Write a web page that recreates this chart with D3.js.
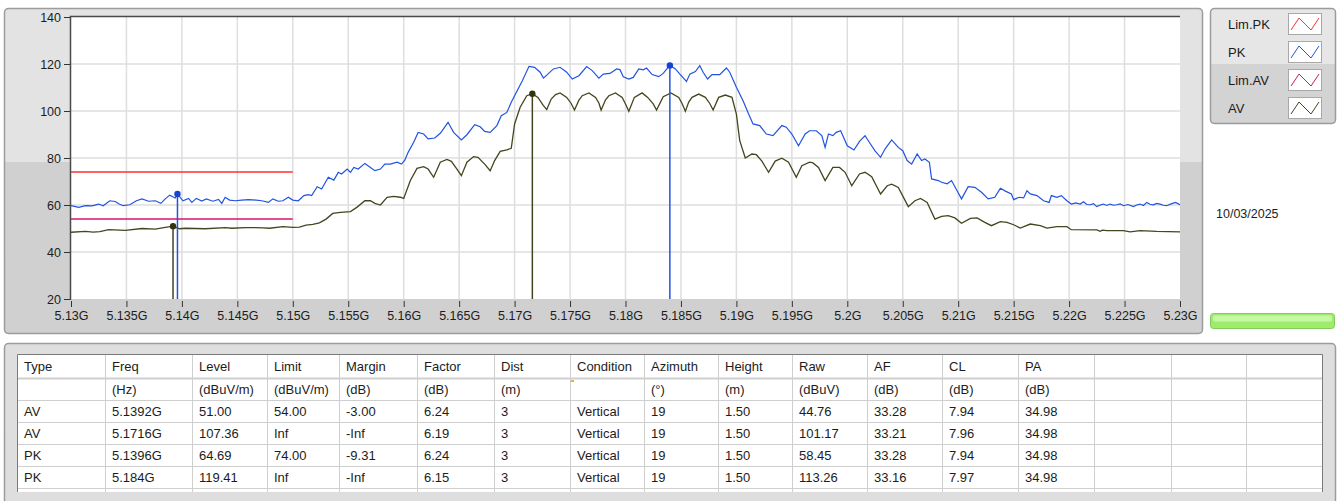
<!DOCTYPE html>
<html>
<head>
<meta charset="utf-8">
<script src="https://cdn.jsdelivr.net/npm/d3@7"></script>
<style>
  body { margin: 0; background: #fff; }
  svg text { font-family: "Liberation Sans", Arial, sans-serif; fill: #1c1c1c; }
</style>
</head>
<body>
<div id="chart"></div>
<script>
// ---- data ----
const xTicks = [5.13, 5.135, 5.14, 5.145, 5.15, 5.155, 5.16, 5.165, 5.17, 5.175, 5.18,
                5.185, 5.19, 5.195, 5.2, 5.205, 5.21, 5.215, 5.22, 5.225, 5.23];
const yTicks = [20, 40, 60, 80, 100, 120, 140];

// limit lines [freq GHz, dBuV/m]
const limitPK = [[5.13, 74], [5.15, 74]];
const limitAV = [[5.13, 54], [5.15, 54]];

// peak trace [freq GHz, dBuV/m]
const pkTrace = [
  [5.1300,59.7],[5.1307,59.0],[5.1313,59.7],[5.1319,59.6],[5.1325,60.4],[5.1329,59.7],[5.1335,61.8],[5.1340,61.5],
  [5.1343,60.5],[5.1347,59.7],[5.1353,60.1],[5.1359,61.8],[5.1364,62.6],[5.1370,61.6],[5.1376,61.8],[5.1381,60.7],
  [5.1385,62.6],[5.1389,64.2],[5.1394,63.0],[5.1396,64.7],[5.1401,61.8],[5.1406,62.8],[5.1409,61.1],[5.1413,62.8],
  [5.1418,61.7],[5.1422,62.6],[5.1428,61.6],[5.1433,62.4],[5.1436,60.7],[5.1439,63.3],[5.1443,62.1],[5.1448,61.8],
  [5.1454,62.1],[5.1460,62.3],[5.1467,62.1],[5.1472,61.8],[5.1478,61.1],[5.1482,62.6],[5.1487,61.6],[5.1491,61.8],
  [5.1496,63.3],[5.1500,62.1],[5.1505,61.8],[5.1510,64.0],[5.1514,64.4],[5.1517,64.0],[5.1522,67.8],[5.1526,66.8],
  [5.1532,71.8],[5.1537,70.6],[5.1541,73.9],[5.1544,73.2],[5.1549,75.3],[5.1552,73.9],[5.1555,76.0],[5.1559,75.3],
  [5.1565,77.7],[5.1570,76.0],[5.1574,74.6],[5.1579,75.3],[5.1583,77.4],[5.1588,77.4],[5.1594,78.2],[5.1598,77.4],
  [5.1601,79.1],[5.1604,82.4],[5.1609,86.7],[5.1613,90.9],[5.1618,90.2],[5.1622,88.1],[5.1628,88.5],[5.1633,90.5],
  [5.1640,95.2],[5.1645,90.9],[5.1652,87.7],[5.1657,89.9],[5.1664,94.2],[5.1669,93.3],[5.1673,91.3],[5.1678,90.9],
  [5.1684,93.8],[5.1688,98.0],[5.1693,99.4],[5.1697,103.7],[5.1700,106.5],[5.1707,112.9],[5.1713,119.0],[5.1718,118.6],
  [5.1723,116.5],[5.1726,114.0],[5.1730,115.7],[5.1735,117.9],[5.1741,118.6],[5.1747,116.5],[5.1752,113.6],[5.1758,115.0],
  [5.1765,118.9],[5.1770,117.2],[5.1776,114.0],[5.1780,115.7],[5.1786,116.0],[5.1792,117.9],[5.1795,117.6],[5.1798,114.6],
  [5.1803,113.6],[5.1807,114.3],[5.1812,117.9],[5.1816,117.5],[5.1819,118.3],[5.1824,115.5],[5.1830,114.6],[5.1834,116.0],
  [5.1840,119.4],[5.1845,117.9],[5.1849,115.7],[5.1855,112.6],[5.1858,115.7],[5.1863,116.8],[5.1867,119.3],[5.1870,116.5],
  [5.1874,113.6],[5.1878,115.5],[5.1885,115.5],[5.1891,118.3],[5.1894,116.5],[5.1900,110.1],[5.1906,104.4],[5.1911,98.7],
  [5.1915,94.5],[5.1921,93.8],[5.1927,90.2],[5.1933,89.5],[5.1941,93.8],[5.1945,93.1],[5.1950,90.2],[5.1956,85.2],
  [5.1962,90.2],[5.1966,91.6],[5.1972,91.6],[5.1977,89.5],[5.1980,84.5],[5.1983,90.2],[5.1987,89.5],[5.1990,90.9],
  [5.1994,91.6],[5.2000,85.2],[5.2006,83.4],[5.2011,87.1],[5.2016,89.5],[5.2020,86.6],[5.2025,83.0],[5.2030,80.3],
  [5.2034,83.8],[5.2040,87.7],[5.2046,84.5],[5.2050,83.1],[5.2054,78.9],[5.2058,77.4],[5.2063,81.7],[5.2067,78.9],
  [5.2070,79.6],[5.2074,78.2],[5.2076,71.1],[5.2082,70.4],[5.2085,69.7],[5.2090,69.0],[5.2094,70.4],[5.2099,66.1],
  [5.2103,62.6],[5.2109,67.8],[5.2115,67.5],[5.2121,65.4],[5.2127,62.6],[5.2133,63.3],[5.2138,67.1],[5.2143,65.8],
  [5.2148,64.7],[5.2150,62.3],[5.2155,63.3],[5.2159,63.0],[5.2162,66.1],[5.2165,64.7],[5.2171,64.0],[5.2177,61.8],
  [5.2182,61.1],[5.2184,64.0],[5.2189,63.3],[5.2193,64.0],[5.2198,61.8],[5.2202,60.4],[5.2206,60.9],[5.2210,60.4],
  [5.2213,61.4],[5.2216,60.2],[5.2219,60.1],[5.2222,60.6],[5.2225,59.3],[5.2228,60.0],[5.2231,60.4],[5.2234,59.8],
  [5.2237,60.4],[5.2240,59.9],[5.2243,60.1],[5.2246,60.5],[5.2249,59.7],[5.2253,60.2],[5.2258,59.3],[5.2261,60.0],
  [5.2264,60.4],[5.2267,59.8],[5.2270,61.1],[5.2273,60.3],[5.2276,60.1],[5.2279,60.7],[5.2282,60.4],[5.2285,59.9],
  [5.2288,59.7],[5.2292,60.5],[5.2296,61.1],[5.2300,60.1]
];

// average trace [freq GHz, dBuV/m]
const avTrace = [
  [5.1300,48.4],[5.1313,48.8],[5.1320,48.5],[5.1326,48.7],[5.1334,49.5],[5.1349,49.2],[5.1364,50.0],[5.1376,49.7],
  [5.1385,50.5],[5.1392,51.0],[5.1398,49.9],[5.1403,50.1],[5.1421,49.9],[5.1439,50.4],[5.1445,50.1],[5.1457,50.4],
  [5.1466,50.4],[5.1473,50.3],[5.1479,50.1],[5.1491,50.8],[5.1500,50.5],[5.1506,50.6],[5.1512,51.4],[5.1518,51.8],
  [5.1524,52.4],[5.1530,54.0],[5.1536,56.4],[5.1543,56.9],[5.1552,57.2],[5.1558,59.1],[5.1565,61.8],[5.1570,61.8],
  [5.1574,60.7],[5.1579,60.0],[5.1585,63.3],[5.1591,63.7],[5.1597,63.3],[5.1600,62.8],[5.1606,70.4],[5.1612,75.6],
  [5.1618,76.3],[5.1622,75.3],[5.1627,71.8],[5.1633,78.2],[5.1639,79.4],[5.1643,78.6],[5.1648,75.3],[5.1652,72.5],
  [5.1657,78.2],[5.1663,80.6],[5.1667,80.3],[5.1673,77.4],[5.1678,74.6],[5.1682,78.9],[5.1687,82.8],[5.1693,83.5],
  [5.1697,84.1],[5.1700,94.5],[5.1705,101.6],[5.1711,106.5],[5.1716,107.4],[5.1721,105.8],[5.1726,102.3],[5.1729,100.6],
  [5.1733,105.1],[5.1737,107.0],[5.1741,107.7],[5.1747,105.8],[5.1751,103.2],[5.1754,100.4],[5.1758,104.6],[5.1761,106.5],
  [5.1767,107.7],[5.1773,105.8],[5.1776,103.4],[5.1778,100.4],[5.1782,104.8],[5.1785,106.5],[5.1791,107.7],[5.1797,105.8],
  [5.1800,103.0],[5.1803,99.9],[5.1808,105.8],[5.1815,107.7],[5.1820,105.8],[5.1825,103.0],[5.1828,100.4],[5.1834,106.1],
  [5.1841,107.7],[5.1848,105.8],[5.1851,103.2],[5.1854,99.9],[5.1857,103.8],[5.1860,105.8],[5.1866,107.2],[5.1872,105.8],
  [5.1876,103.2],[5.1879,100.4],[5.1884,105.8],[5.1890,106.8],[5.1896,105.8],[5.1900,98.7],[5.1903,87.4],[5.1908,80.0],
  [5.1914,81.7],[5.1918,81.4],[5.1923,78.7],[5.1929,73.9],[5.1935,78.7],[5.1941,79.9],[5.1947,78.2],[5.1954,71.8],
  [5.1959,76.7],[5.1966,78.2],[5.1969,77.9],[5.1974,76.0],[5.1980,70.4],[5.1987,76.0],[5.1993,76.0],[5.1998,73.9],
  [5.2004,68.2],[5.2011,73.2],[5.2016,73.9],[5.2022,72.0],[5.2030,64.7],[5.2036,68.2],[5.2040,68.9],[5.2046,67.5],
  [5.2055,59.3],[5.2061,61.8],[5.2066,62.8],[5.2072,61.1],[5.2079,54.0],[5.2085,55.2],[5.2091,55.5],[5.2097,54.5],
  [5.2103,52.2],[5.2111,54.3],[5.2117,54.5],[5.2124,52.6],[5.2130,51.2],[5.2138,52.9],[5.2144,52.6],[5.2150,51.6],
  [5.2156,50.2],[5.2165,51.9],[5.2174,51.2],[5.2180,50.2],[5.2189,50.8],[5.2198,50.8],[5.2202,49.5],[5.2225,49.4],
  [5.2228,48.8],[5.2230,49.3],[5.2234,49.1],[5.2249,49.1],[5.2255,48.6],[5.2264,49.1],[5.2279,48.8],[5.2300,48.6]
];

const legendNames = ["Lim.PK", "PK", "Lim.AV", "AV"];
const dateLabel = "10/03/2025";

const tableHeader = ["Type", "Freq", "Level", "Limit", "Margin", "Factor", "Dist", "Condition",
                     "Azimuth", "Height", "Raw", "AF", "CL", "PA"];
const tableUnits = ["", "(Hz)", "(dBuV/m)", "(dBuV/m)", "(dB)", "(dB)", "(m)", "",
                    "(°)", "(m)", "(dBuV)", "(dB)", "(dB)", "(dB)"];
const tableRows = [
  ["AV", "5.1392G", "51.00", "54.00", "-3.00", "6.24", "3", "Vertical", "19", "1.50", "44.76", "33.28", "7.94", "34.98"],
  ["AV", "5.1716G", "107.36", "Inf", "-Inf", "6.19", "3", "Vertical", "19", "1.50", "101.17", "33.21", "7.96", "34.98"],
  ["PK", "5.1396G", "64.69", "74.00", "-9.31", "6.24", "3", "Vertical", "19", "1.50", "58.45", "33.28", "7.94", "34.98"],
  ["PK", "5.184G", "119.41", "Inf", "-Inf", "6.15", "3", "Vertical", "19", "1.50", "113.26", "33.16", "7.97", "34.98"]
];

// ---- layout and styles ----
const width = 1338, height = 501;
const plot = {left: 71, right: 1180, top: 17, bottom: 299};
const colors = {"Lim.PK": "#ff3030", "PK": "#2153e0", "Lim.AV": "#d4146c", "AV": "#45451f"};
const colEdges = [17, 105, 192, 267, 339, 417, 494, 570, 644, 718, 792, 867, 942, 1018, 1094, 1171, 1246, 1322];
const rowEdges = [354, 378, 400, 422, 444, 466, 488];

const svg = d3.select("#chart")
    .append("svg")
    .attr("width", width)
    .attr("height", height);

// chart panel with lighter top and darker bottom half
const defs = svg.append("defs");
defs.append("clipPath").attr("id", "panelClip")
    .append("rect").attr("x", 4).attr("y", 8).attr("width", 1199).attr("height", 326).attr("rx", 4);
defs.append("clipPath").attr("id", "plotClip")
    .append("rect").attr("x", plot.left).attr("y", plot.top)
    .attr("width", plot.right - plot.left).attr("height", plot.bottom - plot.top);

const panel = svg.append("g").attr("clip-path", "url(#panelClip)");
panel.append("rect").attr("x", 4).attr("y", 8).attr("width", 1199).attr("height", 154).attr("fill", "#e3e3e3");
panel.append("rect").attr("x", 4).attr("y", 162).attr("width", 1199).attr("height", 172).attr("fill", "#d0d0d0");
svg.append("rect")
    .attr("x", 4.5).attr("y", 8.5).attr("width", 1198).attr("height", 325).attr("rx", 4)
    .attr("fill", "none").attr("stroke", "#9c9c9c").attr("stroke-width", 1.5);

// scales
const x = d3.scaleLinear().domain([5.13, 5.23]).range([plot.left, plot.right]);
const y = d3.scaleLinear().domain([20, 140]).range([plot.bottom, plot.top]);

// plot background and grid
svg.append("rect")
    .attr("x", plot.left).attr("y", plot.top)
    .attr("width", plot.right - plot.left).attr("height", plot.bottom - plot.top)
    .attr("fill", "#ffffff");

svg.append("g").selectAll("line")
    .data(xTicks.slice(1, -1))
    .enter().append("line")
    .attr("x1", d => x(d)).attr("x2", d => x(d))
    .attr("y1", plot.top).attr("y2", plot.bottom)
    .attr("stroke", "#dedede").attr("stroke-width", 1.5);

svg.append("g").selectAll("line")
    .data(yTicks.slice(1, -1))
    .enter().append("line")
    .attr("x1", plot.left).attr("x2", plot.right)
    .attr("y1", d => y(d)).attr("y2", d => y(d))
    .attr("stroke", "#dedede").attr("stroke-width", 1.5);

// plot frame (left and top edges are dark)
svg.append("path")
    .attr("d", `M${plot.left - 0.5},${plot.bottom + 1}V${plot.top - 0.5}H${plot.right}`)
    .attr("fill", "none").attr("stroke", "#4a4a4a").attr("stroke-width", 1.5);

// axes
const yAxis = svg.append("g")
    .attr("transform", "translate(" + (plot.left - 1) + ",0)")
    .call(d3.axisLeft(y).tickValues(yTicks).tickSize(6).tickPadding(3));
yAxis.select(".domain").remove();

const xAxis = svg.append("g")
    .attr("transform", "translate(0," + (plot.bottom + 2) + ")")
    .call(d3.axisBottom(x).tickValues(xTicks).tickSize(6).tickPadding(4)
        .tickFormat(d => (+d.toFixed(3)) + "G"));
xAxis.select(".domain").remove();

svg.selectAll(".tick line").attr("stroke", "#333");
svg.selectAll(".tick text")
    .style("font-size", "12.5px")
    .style("font-family", "'Liberation Sans', Arial, sans-serif")
    .attr("fill", "#1c1c1c");

// traces
const line = d3.line().x(d => x(d[0])).y(d => y(d[1]));
const traces = svg.append("g").attr("clip-path", "url(#plotClip)");

traces.append("path").datum(limitPK)
    .attr("d", line).attr("fill", "none").attr("stroke", colors["Lim.PK"]).attr("stroke-width", 1.5);
traces.append("path").datum(limitAV)
    .attr("d", line).attr("fill", "none").attr("stroke", colors["Lim.AV"]).attr("stroke-width", 1.5);
traces.append("path").datum(avTrace)
    .attr("d", line).attr("fill", "none").attr("stroke", colors["AV"]).attr("stroke-width", 1.3);
traces.append("path").datum(pkTrace)
    .attr("d", line).attr("fill", "none").attr("stroke", colors["PK"]).attr("stroke-width", 1.2);

// markers from the table rows
const markers = tableRows.map(r => ({type: r[0], freq: parseFloat(r[1]), level: +r[2]}));
const markerColor = {AV: "#33330f", PK: "#1544d4"};

traces.selectAll(".mline")
    .data(markers)
    .enter().append("line")
    .attr("class", "mline")
    .attr("x1", d => x(d.freq)).attr("x2", d => x(d.freq))
    .attr("y1", d => y(d.level)).attr("y2", plot.bottom)
    .attr("stroke", d => d.type === "AV" ? colors["AV"] : colors["PK"])
    .attr("stroke-width", 1.5);

svg.selectAll(".mdot")
    .data(markers)
    .enter().append("circle")
    .attr("class", "mdot")
    .attr("cx", d => x(d.freq)).attr("cy", d => y(d.level))
    .attr("r", 3.2)
    .attr("fill", d => markerColor[d.type]);

// legend
svg.append("defs").append("clipPath").attr("id", "legClip")
    .append("rect").attr("x", 1210).attr("y", 8).attr("width", 126).attr("height", 116).attr("rx", 4);
const leg = svg.append("g");
const legBg = leg.append("g").attr("clip-path", "url(#legClip)");
legBg.append("rect").attr("x", 1210).attr("y", 8).attr("width", 126).attr("height", 56).attr("fill", "#e6e6e6");
legBg.append("rect").attr("x", 1210).attr("y", 64).attr("width", 126).attr("height", 60).attr("fill", "#d3d3d3");
leg.append("rect")
    .attr("x", 1210.5).attr("y", 8.5).attr("width", 125).attr("height", 115).attr("rx", 4)
    .attr("fill", "none").attr("stroke", "#9c9c9c").attr("stroke-width", 1.5);

const legRows = leg.selectAll(".legrow")
    .data(legendNames)
    .enter().append("g")
    .attr("class", "legrow")
    .attr("transform", (d, i) => "translate(0," + (24 + i * 28) + ")");

legRows.append("text")
    .attr("x", 1228).attr("y", 4.5)
    .style("font-size", "13px")
    .text(d => d);

legRows.append("rect")
    .attr("x", 1288.5).attr("y", -10.5).attr("width", 33).attr("height", 21)
    .attr("fill", "#fff").attr("stroke", "#a8a8a8");

legRows.append("path")
    .attr("d", "M1291,6L1299,-6L1311,6L1319,-6")
    .attr("fill", "none")
    .attr("stroke", d => colors[d])
    .attr("stroke-width", 1);

// date
svg.append("text")
    .attr("x", 1216).attr("y", 218)
    .style("font-size", "12.5px")
    .text(dateLabel);

// green status bar
svg.append("rect")
    .attr("x", 1210.5).attr("y", 313.5).attr("width", 124).attr("height", 15).attr("rx", 3)
    .attr("fill", "#9fec6c").attr("stroke", "#82c95e");
svg.append("rect")
    .attr("x", 1213).attr("y", 315.5).attr("width", 119).attr("height", 6).attr("rx", 2)
    .attr("fill", "#c4f8a2");

// table panel
svg.append("rect")
    .attr("x", 4.5).attr("y", 343.5).attr("width", 1331).attr("height", 165).attr("rx", 4)
    .attr("fill", "#dedede").attr("stroke", "#9c9c9c").attr("stroke-width", 1.5);

const tableTop = rowEdges[0], tableBottom = 492;
svg.append("rect")
    .attr("x", colEdges[0]).attr("y", tableTop)
    .attr("width", colEdges[colEdges.length - 1] - colEdges[0]).attr("height", tableBottom - tableTop)
    .attr("fill", "#fff");

// grid of the table
svg.append("g").selectAll("line")
    .data(colEdges.slice(1, -1))
    .enter().append("line")
    .attr("x1", d => d + 0.5).attr("x2", d => d + 0.5)
    .attr("y1", tableTop).attr("y2", tableBottom)
    .attr("stroke", "#cfcfcf");

svg.append("g").selectAll("line")
    .data(rowEdges.slice(1))
    .enter().append("line")
    .attr("x1", colEdges[0]).attr("x2", colEdges[colEdges.length - 1])
    .attr("y1", d => d + 0.5).attr("y2", d => d + 0.5)
    .attr("stroke", "#cfcfcf").attr("stroke-width", d => d === rowEdges[1] ? 2 : 1);

svg.append("path")
    .attr("d", `M${colEdges[0] + 0.5},${tableBottom}V${tableTop + 0.5}H${colEdges[colEdges.length - 1] + 0.5}V${tableBottom}`)
    .attr("fill", "none").attr("stroke", "#7a7a7a");

// table text
const allRows = [tableHeader, tableUnits].concat(tableRows);
const rowG = svg.append("g").selectAll("g")
    .data(allRows)
    .enter().append("g")
    .attr("transform", (d, i) => "translate(0," + ((rowEdges[i] + rowEdges[i + 1]) / 2 + 4.5) + ")");

rowG.selectAll("text")
    .data(d => d)
    .enter().append("text")
    .attr("x", (d, i) => colEdges[i] + 7)
    .style("font-size", "13px")
    .text(d => d);

// small marker in the condition column
svg.append("rect")
    .attr("x", 571).attr("y", 380).attr("width", 3).attr("height", 2)
    .attr("fill", "#f0b020");
</script>
</body>
</html>
